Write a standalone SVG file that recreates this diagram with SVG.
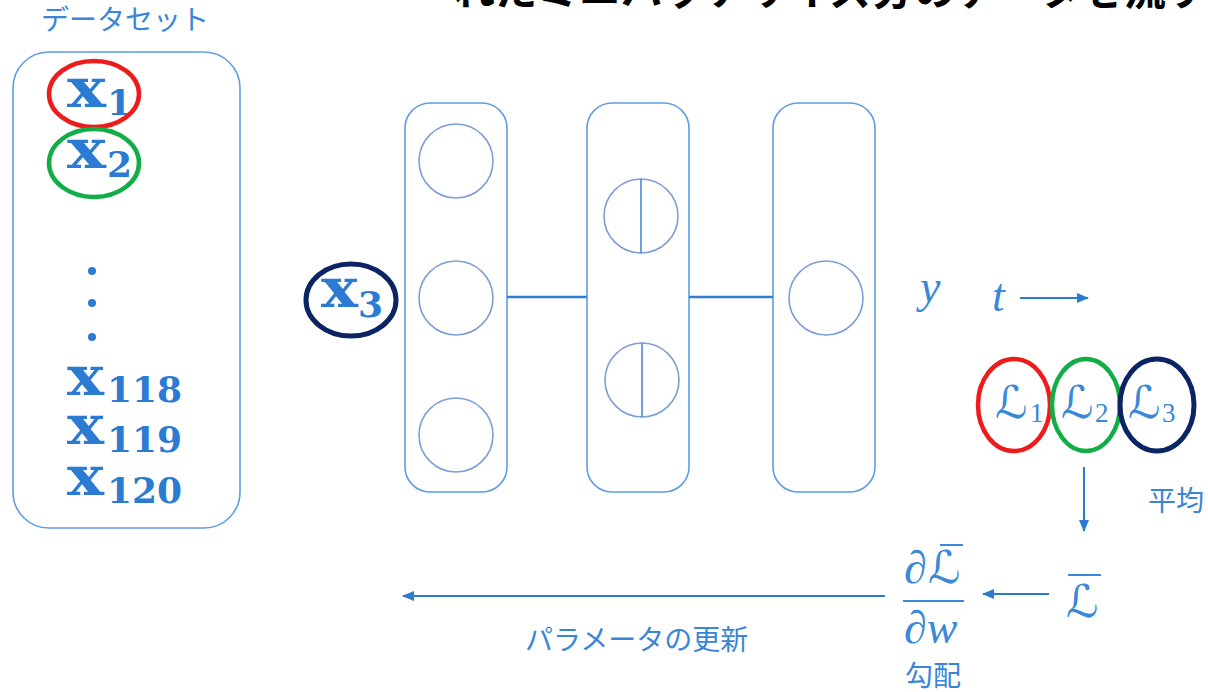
<svg xmlns="http://www.w3.org/2000/svg" width="1208" height="692" viewBox="0 0 1208 692">
<style>
.jp{font-family:"Noto Sans CJK JP","Noto Sans",sans-serif;font-size:28px;fill:#3a86d6;}
.title{font-family:"Noto Sans CJK JP","Noto Sans",sans-serif;font-size:42px;font-weight:bold;fill:#000;}
.bx{font-family:"DejaVu Serif","Liberation Serif",serif;font-weight:bold;font-size:54px;fill:#2b7bd2;}
.bsub{font-family:"DejaVu Serif","Liberation Serif",serif;font-weight:bold;font-size:36px;fill:#2b7bd2;}
.it{font-family:"Liberation Serif",serif;font-style:italic;font-size:46px;fill:#3a88d8;}
.scr{font-family:"DejaVu Sans",serif;font-size:45px;fill:#3a88d8;}
.sub{font-family:"Liberation Serif",serif;font-size:27px;fill:#3a88d8;}
.box{fill:none;stroke:#5f9de3;stroke-width:1.6;}
.unit{fill:none;stroke:#7f9dd6;stroke-width:1.6;}
.split{stroke:#4a8ad9;stroke-width:1.6;}
.conn{stroke:#2f7fd3;stroke-width:2.6;fill:none;}
.arr{stroke:#2b7bd0;stroke-width:2;fill:none;}
.bar{stroke:#3a88d8;stroke-width:2;}
.red{fill:none;stroke:#ee1b1b;stroke-width:4.5;}
.green{fill:none;stroke:#13ad47;stroke-width:4.5;}
.navy{fill:none;stroke:#0b2463;stroke-width:5;}
</style>
<defs>
<marker id="ah" markerWidth="12" markerHeight="10" refX="11" refY="5" orient="auto" markerUnits="userSpaceOnUse">
<path d="M0,0 L12,5 L0,10 Z" fill="#2b7bd0"/>
</marker>
</defs>
<rect width="1208" height="692" fill="#fff"/>

<g id="title">
<text class="title" x="453" y="5">れたミニバッチサイズ分のデータを流す</text>
</g>

<g id="dataset">
<text class="jp" x="125" y="30" text-anchor="middle">データセット</text>
<rect class="box" x="13" y="52" width="227" height="476" rx="36"/>
<text class="bx" x="67" y="107" textLength="39" lengthAdjust="spacingAndGlyphs">x</text><text class="bsub" x="107" y="115">1</text>
<ellipse class="red" cx="94" cy="94" rx="45" ry="33"/>
<text class="bx" x="67" y="168" textLength="39" lengthAdjust="spacingAndGlyphs">x</text><text class="bsub" x="107" y="177">2</text>
<ellipse class="green" cx="94" cy="163" rx="45" ry="34"/>
<circle cx="92" cy="271" r="4" fill="#2b7bd2"/>
<circle cx="92" cy="303" r="4" fill="#2b7bd2"/>
<circle cx="92" cy="337" r="4" fill="#2b7bd2"/>
<text class="bx" x="67" y="395" textLength="37" lengthAdjust="spacingAndGlyphs">x</text><text class="bsub" x="107" y="402">118</text>
<text class="bx" x="67" y="444" textLength="37" lengthAdjust="spacingAndGlyphs">x</text><text class="bsub" x="107" y="452">119</text>
<text class="bx" x="67" y="495" textLength="37" lengthAdjust="spacingAndGlyphs">x</text><text class="bsub" x="107" y="503">120</text>
</g>

<g id="x3">
<text class="bx" x="321" y="307" textLength="37" lengthAdjust="spacingAndGlyphs">x</text><text class="bsub" x="358" y="317">3</text>
<ellipse class="navy" cx="351" cy="300" rx="45" ry="36"/>
</g>

<g id="layer1">
<rect class="box" x="405" y="103" width="102" height="389" rx="25"/>
<circle class="unit" cx="456" cy="161" r="37"/>
<circle class="unit" cx="456" cy="298" r="37"/>
<circle class="unit" cx="456" cy="435" r="37"/>
</g>

<g id="layer2">
<rect class="box" x="587" y="103" width="102" height="389" rx="25"/>
<circle class="unit" cx="641" cy="216" r="37"/>
<line class="split" x1="641" y1="179" x2="641" y2="253"/>
<circle class="unit" cx="642" cy="380" r="37"/>
<line class="split" x1="642" y1="343" x2="642" y2="417"/>
</g>

<g id="layer3">
<rect class="box" x="773" y="103" width="102" height="389" rx="25"/>
<circle class="unit" cx="826" cy="298" r="37"/>
</g>

<g id="outputs">
<text class="it" x="920" y="302">y</text>
<text class="it" x="992" y="311">t</text>
</g>

<g id="losses">
<text class="scr" x="995" y="418">ℒ</text><text class="sub" x="1030" y="422">1</text>
<ellipse class="red" cx="1014" cy="405" rx="36" ry="46"/>
<text class="scr" x="1061" y="418">ℒ</text><text class="sub" x="1095" y="422">2</text>
<ellipse class="green" cx="1086" cy="405" rx="34" ry="46"/>
<text class="scr" x="1128" y="418">ℒ</text><text class="sub" x="1162" y="422">3</text>
<ellipse class="navy" cx="1157" cy="405" rx="37" ry="46"/>
</g>

<g id="mean">
<text class="jp" x="1148" y="511">平均</text>
<text class="scr" x="1066" y="617">ℒ</text>
<line class="bar" x1="1068" y1="575" x2="1101" y2="575"/>
</g>

<g id="gradient">
<text class="it" x="904" y="583">∂</text>
<text class="scr" x="928" y="583">ℒ</text>
<line class="bar" x1="940" y1="545" x2="963" y2="545"/>
<line class="bar" x1="903" y1="601" x2="964" y2="601"/>
<text class="it" x="904" y="643">∂w</text>
<text class="jp" x="905" y="686">勾配</text>
</g>

<g id="update">
<text class="jp" x="525" y="650">パラメータの更新</text>
</g>

<g id="connectors">
<line class="conn" x1="507" y1="297" x2="587" y2="297"/>
<line class="conn" x1="689" y1="297" x2="773" y2="297"/>
<line class="arr" x1="1020" y1="298" x2="1088" y2="298" marker-end="url(#ah)"/>
<line class="arr" x1="1084" y1="467" x2="1084" y2="531" marker-end="url(#ah)"/>
<line class="arr" x1="1049" y1="594" x2="983" y2="594" marker-end="url(#ah)"/>
<line class="arr" x1="885" y1="596" x2="403" y2="596" marker-end="url(#ah)"/>
</g>
</svg>
